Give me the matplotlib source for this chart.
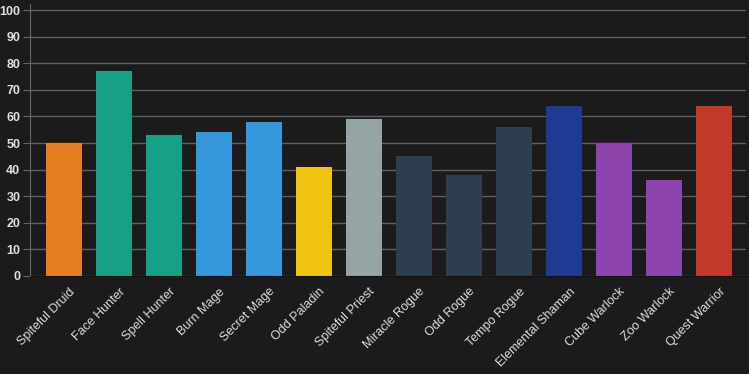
import matplotlib
matplotlib.use('Agg')
import matplotlib.pyplot as plt
import matplotlib.transforms as mtransforms

decks = ['Spiteful Druid', 'Face Hunter', 'Spell Hunter', 'Burn Mage', 'Secret Mage',
         'Odd Paladin', 'Spiteful Priest', 'Miracle Rogue', 'Odd Rogue', 'Tempo Rogue',
         'Elemental Shaman', 'Cube Warlock', 'Zoo Warlock', 'Quest Warrior']
values = [50, 77, 53, 54, 58, 41, 59, 45, 38, 56, 64, 50, 36, 64]
colors = ['#e67e22', '#16a085', '#16a085', '#3498db', '#3498db', '#f1c40f', '#95a5a6',
          '#2c3e50', '#2c3e50', '#2c3e50', '#1f3a93', '#8e44ad', '#8e44ad', '#c0392b']
yticks = list(range(0, 101, 10))

plt.rcParams['font.family'] = ['Liberation Sans', 'DejaVu Sans']

bg = '#1b1b1b'
fig = plt.figure(figsize=(7.49, 3.74), dpi=100, facecolor=bg)
ax = fig.add_axes([30/749, 98/374, 716/749, 272/374], facecolor=bg)

x = list(range(len(decks)))
ax.bar(x, values, width=0.72, color=colors, zorder=2)

ax.set_xlim(-0.68, 13.64)
ax.set_ylim(0, 102.3)
ax.set_yticks(yticks)
ax.set_yticklabels([str(t) for t in yticks], fontsize=9, fontweight='bold', color='#e0e0e0')
ax.set_xticks(x)
ax.set_xticklabels(decks, rotation=45, ha='right', rotation_mode='anchor',
                   fontsize=9, color='#dddddd')
ax.tick_params(axis='x', length=0, pad=7)
ax.tick_params(axis='y', length=5, color='#666666', pad=2)

# nudge the rotated labels so they end under the bar centres
shift = mtransforms.ScaledTranslation(5/100, 0, fig.dpi_scale_trans)
for lbl in ax.get_xticklabels():
    lbl.set_transform(lbl.get_transform() + shift)

ax.grid(axis='y', color='#5e5e5e', linewidth=1, zorder=0)
for s in ['top', 'right']:
    ax.spines[s].set_visible(False)
ax.spines['left'].set_color('#666666')
ax.spines['bottom'].set_color('#111111')

plt.savefig('out.png', dpi=100, facecolor=bg)
